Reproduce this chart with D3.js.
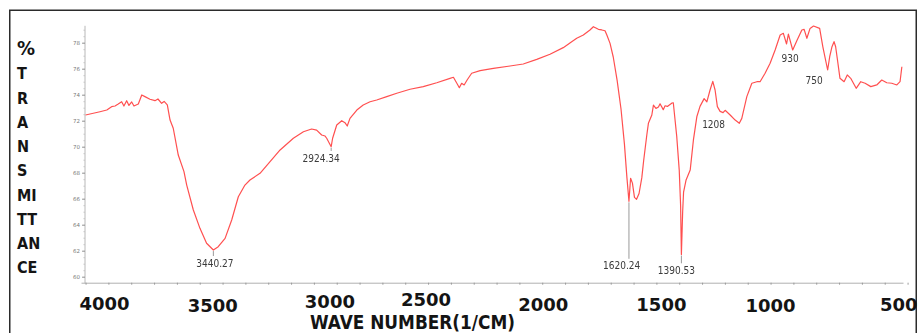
<!DOCTYPE html>
<html>
<head>
<meta charset="utf-8">
<script src="https://cdn.jsdelivr.net/npm/d3@7"></script>
<style>
  html, body { margin: 0; padding: 0; background: #fff; overflow: hidden; }
  svg { display: block; }
</style>
</head>
<body>
<svg id="chart" width="918" height="333"></svg>
<script>
// FT-IR spectrum: wavenumber (cm-1) and % transmittance
const wavenumber = [
  4000, 3937, 3907, 3886, 3871, 3857, 3842, 3832, 3820, 3810, 3798, 3788, 3769, 3754, 3740, 3718,
  3696, 3683, 3667, 3656, 3642, 3630, 3616, 3594, 3569, 3557, 3528, 3499, 3470, 3440.27, 3419, 3389,
  3360, 3331, 3302, 3280, 3236, 3192, 3148, 3090, 3046, 3010, 2988, 2966, 2951, 2944, 2924.34, 2918,
  2900, 2878, 2864, 2854, 2842, 2812, 2784, 2754, 2725, 2681, 2637, 2579, 2521, 2462, 2404, 2389,
  2374, 2363, 2353, 2342, 2329, 2309, 2272, 2214, 2141, 2083, 2024, 1966, 1908, 1871, 1849, 1820,
  1791, 1776, 1754, 1739, 1725, 1717, 1703, 1689, 1672, 1655, 1640, 1629, 1620.24, 1613, 1605, 1596,
  1587, 1576, 1564, 1556, 1542, 1535, 1520, 1513, 1502, 1491, 1484, 1470, 1462, 1452, 1433, 1426,
  1411, 1400, 1394, 1390.53, 1385, 1381, 1370, 1352, 1338, 1323, 1309, 1291, 1279, 1265, 1253, 1243,
  1233, 1221, 1208, 1199, 1177, 1155, 1137, 1126, 1104, 1082, 1060, 1046, 1024, 1002, 980, 958,
  944, 930, 922, 903, 885, 863, 853, 841, 827, 812, 785, 771, 750, 741, 731, 722,
  715, 705, 696, 678, 664, 649, 625, 605, 586, 561, 535, 513, 491, 469, 447, 433,
  425
];
const transmittance = [
  72.44, 72.69, 72.82, 73.08, 73.13, 73.28, 73.46, 73.13, 73.54, 73.17, 73.44, 73.13, 73.28, 73.98, 73.85, 73.65,
  73.54, 73.67, 73.34, 73.48, 73.21, 72.05, 71.42, 69.36, 68.08, 67.05, 65.13, 63.72, 62.57, 62.05, 62.31, 62.95,
  64.36, 66.15, 67.05, 67.44, 67.95, 68.85, 69.75, 70.65, 71.15, 71.36, 71.28, 70.90, 70.82, 70.65, 70.00, 70.65,
  71.67, 72.00, 71.85, 71.59, 72.18, 72.82, 73.21, 73.46, 73.59, 73.85, 74.11, 74.42, 74.62, 74.92, 75.26, 75.34,
  74.88, 74.54, 74.88, 74.75, 75.13, 75.65, 75.85, 76.03, 76.21, 76.36, 76.72, 77.11, 77.62, 78.08, 78.34, 78.59,
  78.98, 79.23, 79.03, 78.98, 78.92, 78.59, 77.95, 76.90, 75.10, 72.90, 70.20, 67.60, 65.80, 67.57, 67.20, 66.10,
  65.95, 66.40, 67.60, 68.90, 70.90, 71.80, 72.44, 73.20, 72.95, 73.05, 73.30, 72.85, 73.15, 73.10, 73.35, 73.38,
  70.80, 68.20, 65.50, 61.70, 65.00, 66.50, 67.44, 68.20, 70.50, 72.30, 73.10, 73.70, 73.45, 74.36, 75.02, 74.36,
  73.08, 72.72, 72.62, 72.80, 72.44, 72.05, 71.80, 72.18, 73.85, 74.88, 75.00, 75.00, 75.65, 76.42, 77.44, 78.59,
  78.72, 77.90, 78.66, 77.44, 78.15, 78.98, 79.03, 78.34, 79.10, 79.28, 79.10, 77.68, 75.90, 76.92, 77.69, 78.08,
  77.69, 76.42, 75.26, 75.00, 75.52, 75.26, 74.49, 75.00, 74.88, 74.62, 74.75, 75.13, 74.92, 74.88, 74.75, 75.00,
  76.15
];

// Picked peaks
const peakWavenumber = [3440.27, 2924.34, 1620.24, 1390.53, 1208, 930, 750];
const peakText = ["3440.27", "2924.34", "1620.24", "1390.53", "1208", "930", "750"];

// Axis ticks and titles
const yTickValues = [60, 62, 64, 66, 68, 70, 72, 74, 76, 78];
const xTickLabels = [4000, 3500, 3000, 2500, 2000, 1500, 1000, 500];
const yTitleRows = ["%", "T", "R", "A", "N", "S", "MI", "TT", "AN", "CE"];
const xTitle = "WAVE NUMBER(1/CM)";

const svg = d3.select("#chart");

const x = d3.scaleLinear().domain([4020, 420]).range([81, 903]);
const y = d3.scaleLinear().domain([60, 78]).range([276.7, 42.7]);

const defs = svg.append("defs");
defs.append("filter").attr("id", "soft")
  .append("feGaussianBlur").attr("stdDeviation", 0.35);

// Outer frame
svg.append("rect")
  .attr("x", 9.75).attr("y", 10.25)
  .attr("width", 906.5).attr("height", 340)
  .attr("fill", "none").attr("stroke", "#2b2b2b").attr("stroke-width", 1.5);

// Y axis (light instrument style)
const yAxisG = svg.append("g").attr("transform", "translate(85,0)");
yAxisG.append("line")
  .attr("x1", 0).attr("x2", 0)
  .attr("y1", y(79.3)).attr("y2", y(59.5))
  .attr("stroke", "#b8b8b8").attr("stroke-width", 1);
const yMinor = yAxisG.append("g")
  .call(d3.axisLeft(y).tickValues(d3.range(60, 79.01, 0.5)).tickSize(1.5).tickFormat(""));
yMinor.select(".domain").remove();
yMinor.selectAll("line").attr("stroke", "#c4c4c4");
const yMajor = yAxisG.append("g")
  .call(d3.axisLeft(y).tickValues(yTickValues).tickSize(3).tickPadding(2));
yMajor.select(".domain").remove();
yMajor.selectAll("line").attr("stroke", "#999");
yMajor.selectAll("text")
  .attr("fill", "#7a7a7a")
  .style("font-family", "'DejaVu Sans', sans-serif")
  .style("font-size", "5.5px");

// X axis with small ticks every 100 cm-1
const xAxisG = svg.append("g").attr("transform", "translate(0,282.7)")
  .call(d3.axisBottom(x).tickValues(d3.range(4000, 399, -100)).tickSize(2).tickSizeOuter(0).tickFormat(""));
xAxisG.select(".domain").attr("stroke", "#b0b0b0");
xAxisG.selectAll("line").attr("stroke", "#9a9a9a");

// Large axis numbers
const bigLabelNudge = [[19, 0], [13, 1.7], [16, -1.7], [-2, -4], [1, 0.7], [5, 0.7], [0, 1.7], [14, 0.7]];
svg.append("g").selectAll("text")
  .data(xTickLabels)
  .join("text")
  .attr("x", (d, i) => x(d) + bigLabelNudge[i][0])
  .attr("y", (d, i) => 310 + bigLabelNudge[i][1])
  .attr("text-anchor", "middle")
  .attr("fill", "#141414")
  .style("font-family", "'DejaVu Sans', sans-serif")
  .style("font-weight", "bold")
  .style("font-size", "18px")
  .text(d => d);

// X title
svg.append("text")
  .attr("x", 310).attr("y", 328.5)
  .attr("textLength", 205).attr("lengthAdjust", "spacingAndGlyphs")
  .attr("fill", "#141414")
  .style("font-family", "'DejaVu Sans Condensed', 'DejaVu Sans', sans-serif")
  .style("font-weight", "bold")
  .style("font-size", "19px")
  .text(xTitle);

// Stacked Y title
svg.append("g").selectAll("text")
  .data(yTitleRows)
  .join("text")
  .attr("x", 17)
  .attr("y", (d, i) => 55 + i * 24.26)
  .attr("fill", "#141414")
  .style("font-family", "'DejaVu Sans Condensed', 'DejaVu Sans', sans-serif")
  .style("font-weight", "bold")
  .style("font-size", (d, i) => i === 0 ? "20px" : "16px")
  .text(d => d);

// Spectrum line
const spectrum = wavenumber.map((w, i) => [w, transmittance[i]]);
svg.append("path")
  .datum(spectrum)
  .attr("fill", "none")
  .attr("stroke", "#ff5050")
  .attr("stroke-width", 1.2)
  .attr("stroke-linejoin", "round")
  .attr("filter", "url(#soft)")
  .attr("d", d3.line().x(d => x(d[0])).y(d => y(d[1])));

// Peak annotations
const peakT = peakWavenumber.map(w => transmittance[wavenumber.indexOf(w)]);
const labelDx = [1.5, -10, -7.3, -5, -9.5, 3.5, -13.5];
const labelDy = [16.5, 14.8, 68, 19.2, 15.4, 18, 14];
const hasDrop = [true, true, true, true, false, false, false];

const ann = svg.append("g").attr("filter", "url(#soft)");
peakWavenumber.forEach((w, i) => {
  const px = x(w), py = y(peakT[i]);
  const base = py + labelDy[i];
  if (hasDrop[i]) {
    ann.append("line")
      .attr("x1", px).attr("x2", px)
      .attr("y1", py + 1).attr("y2", base - 10.5)
      .attr("stroke", "#9a9a9a").attr("stroke-width", 1);
  }
  ann.append("text")
    .attr("x", px + labelDx[i]).attr("y", base)
    .attr("text-anchor", "middle")
    .attr("fill", "#3a3a3a")
    .style("font-family", "'DejaVu Sans Condensed', 'DejaVu Sans', sans-serif")
    .style("font-size", "10px")
    .text(peakText[i]);
});
</script>
</body>
</html>
